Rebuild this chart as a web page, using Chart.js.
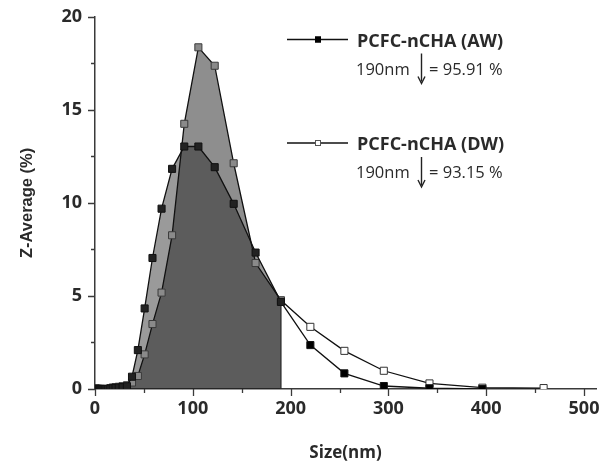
<!DOCTYPE html>
<html>
<head>
<meta charset="utf-8">
<script src="https://cdn.jsdelivr.net/npm/chart.js@4.4.1/dist/chart.umd.min.js"></script>
<style>
  html, body { margin: 0; padding: 0; background: #fff; }
  #wrap { width: 602px; height: 467px; }
</style>
</head>
<body>
<div id="wrap"><canvas id="chart" width="602" height="467"></canvas></div>
<script>
// size bins (nm) and Z-average distribution (%)
const sizes = [0.4, 0.4632, 0.5365, 0.6213, 0.7195, 0.8332, 0.9649, 1.117, 1.294, 1.499, 1.736, 2.01,
    2.328, 2.696, 3.122, 3.615, 4.187, 4.849, 5.615, 6.503, 7.531, 8.721, 10.1, 11.7, 13.54,
    15.69, 18.17, 21.04, 24.36, 28.21, 32.67, 37.84, 43.82, 50.75, 58.77, 68.06, 78.82, 91.28,
    105.7, 122.4, 141.8, 164.2, 190.1, 220.2, 255.0, 295.3, 342.0, 396.1, 458.7];
const awValues = [0, 0, 0, 0, 0, 0, 0, 0, 0, 0, 0, 0,
    0, 0, 0, 0, 0, 0, 0, 0, 0, 0, 0, 0, 0,
    0.02, 0.04, 0.06, 0.08, 0.1, 0.15, 0.66, 2.09, 4.33, 7.04, 9.69, 11.83, 13.03,
    13.03, 11.92, 9.95, 7.33, 4.68, 2.36, 0.84, 0.16, 0.04, 0, null];
const dwValues = [0, 0, 0, 0, 0, 0, 0, 0, 0, 0, 0, 0,
    0, 0, 0, 0, 0, 0, 0, 0, 0, 0, 0, 0, 0,
    0.05, 0.08, 0.1, 0.12, 0.15, 0.2, 0.35, 0.7, 1.86, 3.49, 5.18, 8.26, 14.25,
    18.36, 17.37, 12.13, 6.77, 4.77, 3.34, 2.05, 0.98, 0.3, 0.07, 0.05];
const xTicks = [0, 100, 200, 300, 400, 500];
const yTicks = [0, 5, 10, 15, 20];
const cutoff = 190.1;
const seriesNames = ['PCFC-nCHA (AW)', 'PCFC-nCHA (DW)'];
const legendNotes = ['190nm', '= 95.91 %', '190nm', '= 93.15 %'];

const axisColor = '#3a3a3a';
const textColor = '#2a2a2a';
const px500 = 489; // distance in px from the y axis to the 500 tick

function toPoints(values) {
    return sizes.map((s, i) => ({ x: s, y: values[i] })).filter((p) => p.y !== null);
}
const awPoints = toPoints(awValues);
const dwPoints = toPoints(dwValues);
const awFill = awPoints.filter((p) => p.x <= cutoff);
const dwFill = dwPoints.filter((p) => p.x <= cutoff);
const edgeTop = Math.min(awFill[awFill.length - 1].y, dwFill[dwFill.length - 1].y);

const tickMarks = {
    id: 'tickMarks',
    afterDraw(chart) {
        const { ctx, chartArea } = chart;
        const xs = chart.scales.x;
        const ys = chart.scales.y;
        ctx.save();
        ctx.strokeStyle = axisColor;
        ctx.lineWidth = 1.3;
        ctx.beginPath();
        xs.ticks.forEach((t) => {
            const px = Math.round(xs.getPixelForValue(t.value)) + 0.5;
            const len = xTicks.includes(t.value) ? 7 : 4;
            ctx.moveTo(px, chartArea.bottom);
            ctx.lineTo(px, chartArea.bottom + len);
        });
        ys.ticks.forEach((t) => {
            const py = Math.round(ys.getPixelForValue(t.value)) + 0.5;
            const len = yTicks.includes(t.value) ? 7 : 4;
            ctx.moveTo(chartArea.left - len, py);
            ctx.lineTo(chartArea.left, py);
        });
        ctx.stroke();
        ctx.restore();
    },
};

function drawArrow(ctx, x, y0, y1) {
    ctx.beginPath();
    ctx.moveTo(x, y0);
    ctx.lineTo(x, y1 - 2);
    ctx.stroke();
    ctx.beginPath();
    ctx.moveTo(x - 3.5, y1 - 7);
    ctx.lineTo(x, y1);
    ctx.lineTo(x + 3.5, y1 - 7);
    ctx.stroke();
}

const legendNotesPlugin = {
    id: 'legendNotes',
    afterDraw(chart) {
        const ctx = chart.ctx;
        ctx.save();
        const rows = [
            { lineY: 39.5, fill: '#000', stroke: '#000', name: seriesNames[0], note: 0 },
            { lineY: 143, fill: '#fff', stroke: '#555', name: seriesNames[1], note: 2 },
        ];
        rows.forEach((r) => {
            ctx.strokeStyle = '#111';
            ctx.lineWidth = 1.4;
            ctx.beginPath();
            ctx.moveTo(287, r.lineY);
            ctx.lineTo(348, r.lineY);
            ctx.stroke();
            ctx.fillStyle = r.fill;
            ctx.fillRect(315, r.lineY - 3, 6, 6);
            ctx.strokeStyle = r.stroke;
            ctx.lineWidth = 1;
            ctx.strokeRect(315.5, r.lineY - 2.5, 5, 5);

            ctx.fillStyle = textColor;
            ctx.textBaseline = 'alphabetic';
            ctx.font = 'bold 18px "Open Sans"';
            ctx.fillText(r.name, 357, r.lineY + 7);
            ctx.font = '16.5px "Open Sans"';
            ctx.fillText(legendNotes[r.note], 356, r.lineY + 35);
            ctx.fillText(legendNotes[r.note + 1], 429, r.lineY + 35);
            ctx.strokeStyle = '#222';
            ctx.lineWidth = 1.4;
            drawArrow(ctx, 421.5, r.lineY + 14, r.lineY + 44);
        });
        ctx.restore();
    },
};

const pointBg = (dark, light) => (c) => (c.raw && c.raw.x <= cutoff ? dark : light);

new Chart(document.getElementById('chart'), {
    type: 'line',
    data: {
        datasets: [
            {
                label: 'AW',
                data: awPoints,
                borderColor: '#111',
                borderWidth: 1.3,
                pointStyle: 'rect',
                pointRadius: 5,
                pointBackgroundColor: pointBg('#222', '#000'),
                pointBorderColor: '#111',
                pointBorderWidth: 1,
                fill: false,
                order: 1,
            },
            {
                label: 'DW',
                data: dwPoints,
                borderColor: '#111',
                borderWidth: 1.3,
                pointStyle: 'rect',
                pointRadius: 5,
                pointBackgroundColor: pointBg('#8a8a8a', '#fff'),
                pointBorderColor: pointBg('#3a3a3a', '#333'),
                pointBorderWidth: 1,
                fill: false,
                order: 2,
            },
            {
                label: 'edge',
                data: [{ x: cutoff, y: 0 }, { x: cutoff, y: edgeTop }],
                borderColor: '#2a2a2a',
                borderWidth: 1.3,
                pointRadius: 0,
                fill: false,
                order: 3,
            },
            {
                label: 'AW area',
                data: awFill,
                borderWidth: 0,
                pointRadius: 0,
                backgroundColor: 'rgba(30,30,30,0.45)',
                fill: 'origin',
                order: 4,
            },
            {
                label: 'DW area',
                data: dwFill,
                borderWidth: 0,
                pointRadius: 0,
                backgroundColor: 'rgba(30,30,30,0.5)',
                fill: 'origin',
                order: 5,
            },
        ],
    },
    options: {
        responsive: false,
        animation: false,
        layout: { padding: { left: 0, right: 0, top: 16, bottom: 0 } },
        elements: { line: { tension: 0 } },
        plugins: { legend: { display: false }, tooltip: { enabled: false } },
        scales: {
            x: {
                type: 'linear',
                min: 0,
                max: 518,
                afterDataLimits(scale) {
                    // keep the 500 tick at a fixed distance from the axis origin
                    if (scale.width > 0) scale.max = 500 * scale.width / px500;
                },
                afterFit(scale) {
                    scale.height = 78;
                    scale.paddingRight = 0;
                    scale.paddingLeft = 0;
                },
                afterBuildTicks(scale) {
                    scale.ticks = scale.ticks.filter((t) => t.value % 50 === 0 && t.value <= 500);
                },
                ticks: {
                    stepSize: 50,
                    includeBounds: false,
                    padding: 2,
                    color: textColor,
                    font: { family: 'Open Sans', size: 18, weight: 'bold' },
                    callback: (v) => (xTicks.includes(v) ? String(v) : ''),
                    maxRotation: 0,
                    autoSkip: false,
                },
                grid: { drawOnChartArea: false, color: 'transparent', tickLength: 7 },
                border: { display: true, color: axisColor, width: 1.5 },
                title: {
                    display: true,
                    text: 'Size(nm)',
                    color: textColor,
                    font: { family: 'Open Sans', size: 17, weight: 'bold' },
                    padding: { top: 4, bottom: 4 },
                },
            },
            y: {
                min: 0,
                max: 20,
                afterFit(scale) { scale.width = 95; },
                ticks: {
                    stepSize: 2.5,
                    padding: 6,
                    color: textColor,
                    font: { family: 'Open Sans', size: 18, weight: 'bold' },
                    callback: (v) => (yTicks.includes(v) ? String(v) : ''),
                    autoSkip: false,
                },
                grid: { drawOnChartArea: false, color: 'transparent', tickLength: 7 },
                border: { display: true, color: axisColor, width: 1.5 },
                title: {
                    display: true,
                    text: 'Z-Average (%)',
                    color: textColor,
                    font: { family: 'Liberation Sans', size: 16.5, weight: 'bold' },
                    padding: { top: 18, bottom: 18 },
                },
            },
        },
    },
    plugins: [tickMarks, legendNotesPlugin],
});
</script>
</body>
</html>
